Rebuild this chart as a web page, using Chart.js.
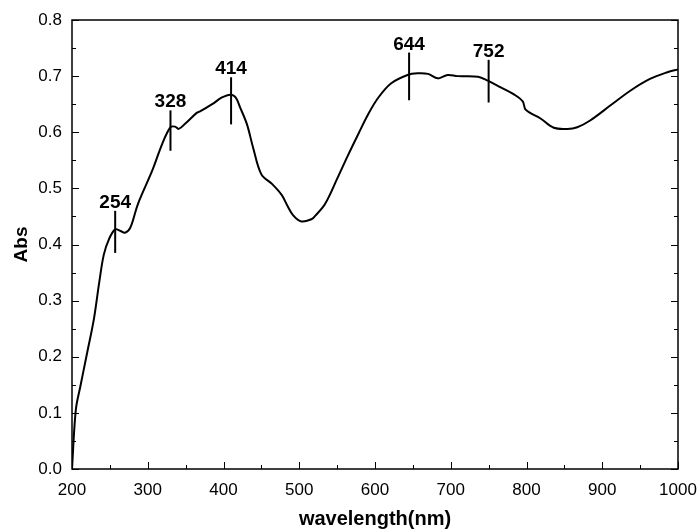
<!DOCTYPE html>
<html>
<head>
<meta charset="utf-8">
<script src="https://cdn.jsdelivr.net/npm/chart.js@4/dist/chart.umd.min.js"></script>
<style>
  html, body { margin: 0; padding: 0; background: #fff; }
  #wrap { width: 700px; height: 532px; }
</style>
</head>
<body>
<div id="wrap"><canvas id="c" width="700" height="532"></canvas></div>
<script>
// spectrum
const wavelength = [200, 205, 211, 220, 229, 236, 242, 249, 257, 264, 270, 277, 287, 306, 319, 330, 336, 341, 350, 365, 369, 385, 398, 409, 416, 422, 431, 439, 450, 464, 477, 484, 492, 503, 516, 521, 534, 551, 564, 578, 591, 604, 621, 643, 656, 670, 683, 696, 709, 736, 749, 766, 784, 795, 799, 819, 836, 854, 867, 884, 911, 937, 963, 986, 1000];
const absorbance = [0.0, 0.105, 0.147, 0.207, 0.268, 0.333, 0.382, 0.41, 0.427, 0.424, 0.421, 0.43, 0.472, 0.532, 0.579, 0.609, 0.61, 0.606, 0.616, 0.635, 0.637, 0.65, 0.662, 0.667, 0.662, 0.644, 0.614, 0.573, 0.525, 0.508, 0.488, 0.47, 0.452, 0.441, 0.445, 0.451, 0.472, 0.52, 0.558, 0.597, 0.632, 0.661, 0.687, 0.702, 0.705, 0.704, 0.696, 0.702, 0.7, 0.699, 0.692, 0.68, 0.667, 0.655, 0.64, 0.624, 0.608, 0.606, 0.609, 0.621, 0.648, 0.674, 0.695, 0.707, 0.712];

// peak markers
const peakLabels = ['254', '328', '414', '644', '752'];
const peakX = [257, 330, 410, 645, 750];
const peakTop = [0.46, 0.639, 0.698, 0.742, 0.729];
const peakBottom = [0.385, 0.567, 0.614, 0.657, 0.653];

const xTitle = 'wavelength(nm)';
const yTitle = 'Abs';

const FONT = '"Liberation Sans", Arial, sans-serif';
const points = wavelength.map((w, i) => ({ x: w, y: absorbance[i] }));

// frame, inward ticks and peak markers
const extras = {
  id: 'extras',
  afterDatasetsDraw(chart) {
    const ctx = chart.ctx;
    const xs = chart.scales.x, ys = chart.scales.y;
    const a = chart.chartArea;
    ctx.save();
    ctx.strokeStyle = '#000';
    ctx.lineWidth = 1.5;
    ctx.strokeRect(a.left, a.top, a.right - a.left, a.bottom - a.top);

    ctx.lineWidth = 1;
    ctx.beginPath();
    for (let v = 200; v <= 1000; v += 50) {
      const px = Math.round(xs.getPixelForValue(v)) + 0.5;
      const len = v % 100 === 0 ? 7 : 4;
      ctx.moveTo(px, a.bottom); ctx.lineTo(px, a.bottom - len);
    }
    for (let k = 0; k <= 16; k++) {
      const v = k * 0.05;
      const py = Math.round(ys.getPixelForValue(v)) + 0.5;
      const len = k % 2 === 0 ? 7 : 4;
      ctx.moveTo(a.left, py); ctx.lineTo(a.left + len, py);
      ctx.moveTo(a.right, py); ctx.lineTo(a.right - len, py);
    }
    ctx.stroke();

    ctx.lineWidth = 2;
    ctx.fillStyle = '#000';
    ctx.font = 'bold 19px ' + FONT;
    ctx.textAlign = 'center';
    ctx.textBaseline = 'alphabetic';
    peakLabels.forEach((lab, i) => {
      const px = xs.getPixelForValue(peakX[i]);
      const y1 = ys.getPixelForValue(peakTop[i]);
      const y2 = ys.getPixelForValue(peakBottom[i]);
      ctx.beginPath();
      ctx.moveTo(px, y1); ctx.lineTo(px, y2);
      ctx.stroke();
      ctx.fillText(lab, px, y1 - 3);
    });
    ctx.restore();
  }
};

new Chart(document.getElementById('c'), {
  type: 'line',
  data: {
    datasets: [{
      data: points,
      borderColor: '#000',
      borderWidth: 2,
      pointRadius: 0,
      tension: 0.35,
      fill: false
    }]
  },
  options: {
    responsive: false,
    animation: false,
    events: [],
    layout: { padding: { top: 20, right: 22, left: 0, bottom: 0 } },
    plugins: { legend: { display: false }, tooltip: { enabled: false } },
    scales: {
      x: {
        type: 'linear',
        min: 200, max: 1000,
        grid: { display: false, drawTicks: false },
        border: { display: false },
        ticks: {
          stepSize: 100, padding: 11, color: '#000',
          font: { family: FONT, size: 17 },
          maxRotation: 0,
          callback: v => String(v)
        },
        title: {
          display: true, text: xTitle, color: '#000',
          font: { family: FONT, size: 20, weight: 'bold' },
          padding: { top: 0, bottom: 1 }
        },
        afterFit(s) { s.height = 63; s.paddingLeft = 0; s.paddingRight = 0; }
      },
      y: {
        min: 0, max: 0.8,
        grid: { display: false, drawTicks: false },
        border: { display: false },
        ticks: {
          stepSize: 0.1, padding: 10, color: '#000',
          font: { family: FONT, size: 17 },
          callback: v => v.toFixed(1)
        },
        title: {
          display: true, text: yTitle, color: '#000',
          font: { family: FONT, size: 19, weight: 'bold' },
          padding: { top: 10, bottom: 0 }
        },
        afterFit(s) { s.width = 72; s.paddingTop = 0; s.paddingBottom = 0; }
      }
    }
  },
  plugins: [extras]
});
</script>
</body>
</html>
